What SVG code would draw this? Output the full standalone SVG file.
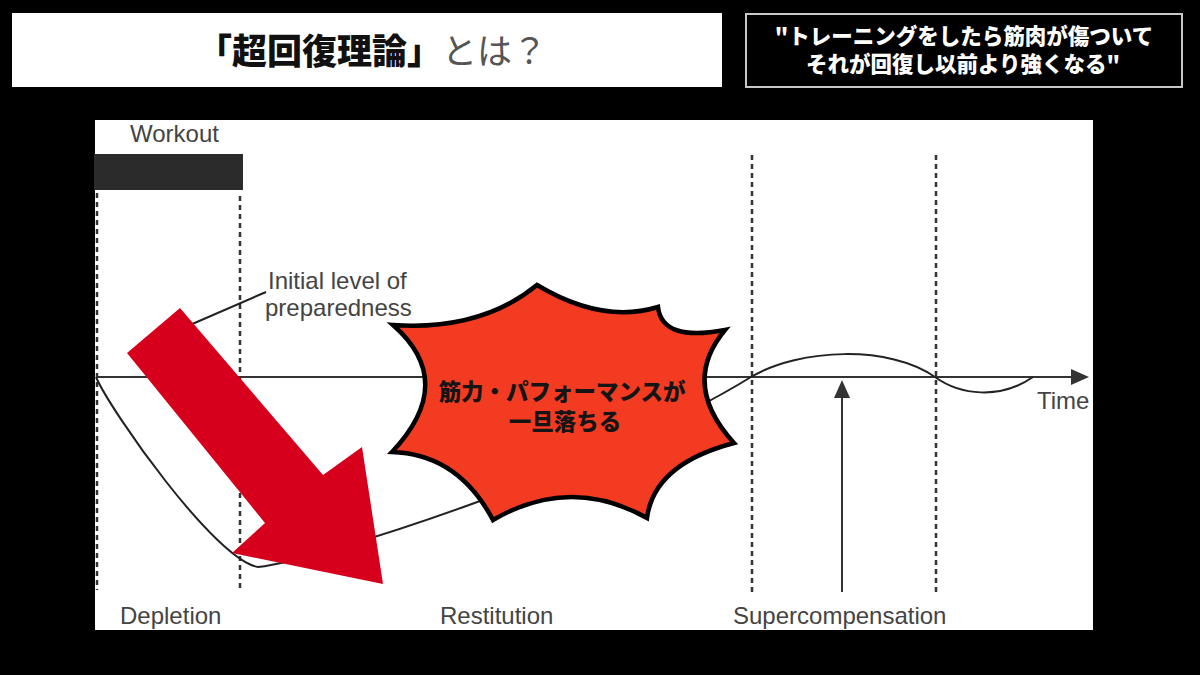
<svg xmlns="http://www.w3.org/2000/svg" width="1200" height="675" viewBox="0 0 1200 675">
  <style>
    .lbl { font-family: "Liberation Sans", Arial, sans-serif; font-size: 24px; fill: #444; }
    .jp { font-family: "Noto Sans CJK JP", sans-serif; }
    .dash { stroke: #333; stroke-width: 2.5; stroke-dasharray: 5 4; fill: none; }
    .curve { stroke: #222; stroke-width: 2; fill: none; }
    .axis { stroke: #333; stroke-width: 2; fill: none; }
  </style>
  <rect x="0" y="0" width="1200" height="675" fill="#000"/>

  <g id="title">
    <rect x="12" y="13" width="710" height="74" fill="#fff"/>
    <text x="372" y="64" text-anchor="middle" class="jp" font-size="35"><tspan font-weight="900" fill="#111">「超回復理論」</tspan><tspan font-weight="400" fill="#555">とは？</tspan></text>
  </g>

  <g id="quote">
    <rect x="746" y="14" width="436" height="73" fill="#000" stroke="#c8c8c8" stroke-width="2"/>
    <text x="964" y="44" text-anchor="middle" class="jp" font-size="21.5" font-weight="900" fill="#fff">"トレーニングをしたら筋肉が傷ついて</text>
    <text x="963" y="72" text-anchor="middle" class="jp" font-size="21.5" font-weight="900" fill="#fff">それが回復し以前より強くなる"</text>
  </g>

  <g id="panel">
    <rect x="95" y="120" width="998" height="510" fill="#fff"/>
  </g>

  <g id="workout">
    <rect x="94" y="154" width="149" height="36" fill="#2b2b2b"/>
    <text x="130" y="142" class="lbl">Workout</text>
  </g>

  <g id="connectors">
    <line class="dash" x1="97" y1="193" x2="97" y2="590"/>
    <line class="dash" x1="240" y1="196" x2="240" y2="590"/>
    <line class="dash" x1="752" y1="155" x2="752" y2="592"/>
    <line class="dash" x1="936" y1="155" x2="936" y2="592"/>
    <line class="axis" x1="96" y1="377" x2="1074" y2="377"/>
    <polygon points="1089,377 1071,369 1071,385" fill="#333"/>
    <line class="axis" x1="842" y1="592" x2="842" y2="396"/>
    <polygon points="842,380 834,398 850,398" fill="#333"/>
    <path class="curve" d="M96,377 C110,410 215,560 258,567 C320,560 600,470 751,377 C800,348 890,345 935,377 C960,395 1000,400 1033,377"/>
    <line x1="190" y1="325" x2="266" y2="292" stroke="#222" stroke-width="2"/>
  </g>

  <g id="labels">
    <text x="268" y="289" class="lbl">Initial level of</text>
    <text x="265" y="316" class="lbl">preparedness</text>
    <text x="1037" y="409" class="lbl">Time</text>
    <text x="120" y="624" class="lbl">Depletion</text>
    <text x="440" y="624" class="lbl">Restitution</text>
    <text x="733" y="624" class="lbl">Supercompensation</text>
  </g>

  <g id="red-arrow">
    <polygon points="180,308 323,475 362,447 383,584 232,553 265,523 127,353" fill="#d6001c"/>
  </g>

  <g id="burst">
    <path d="M393,325 Q481,331 537,285 Q602,324 658,307 Q662,342 725,330 Q680,384 734,443 Q654,464 647,518 Q570,475 493,520 Q458,454 392,452 Q458,382 393,325 Z" fill="#f33b22" stroke="#000" stroke-width="4.5" stroke-linejoin="miter"/>
    <text x="562" y="400" text-anchor="middle" class="jp" font-size="22.5" font-weight="900" fill="#151515">筋力・パフォーマンスが</text>
    <text x="565" y="430" text-anchor="middle" class="jp" font-size="22.5" font-weight="900" fill="#151515">一旦落ちる</text>
  </g>
</svg>
